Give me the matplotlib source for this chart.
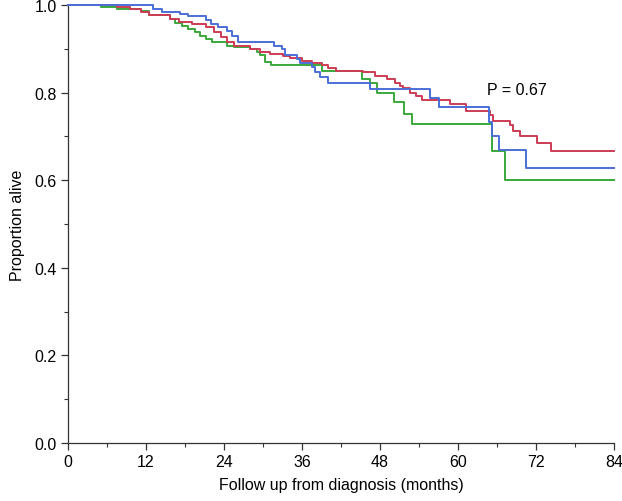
import matplotlib
matplotlib.use("Agg")
import matplotlib.pyplot as plt
from matplotlib.ticker import MultipleLocator

# ---- data ----
red_t = [0, 7.5, 9.5, 11.3, 12.4, 15.7, 17.0, 19.0, 21.3, 22.5, 23.5, 24.4, 25.5, 28.0,
         29.5, 31.0, 33.0, 34.2, 36.0, 37.5, 39.0, 40.0, 41.3, 45.4, 47.2, 49.0, 50.3,
         51.0, 51.6, 52.6, 53.6, 54.4, 58.8, 61.3, 64.9, 65.4, 68.0, 68.5, 69.5, 72.1,
         74.3, 84]
red_s = [1.0, 0.995, 0.991, 0.983, 0.977, 0.968, 0.962, 0.957, 0.949, 0.938, 0.927, 0.915,
         0.907, 0.900, 0.893, 0.888, 0.883, 0.878, 0.873, 0.868, 0.862, 0.856, 0.850, 0.846,
         0.838, 0.832, 0.823, 0.816, 0.810, 0.800, 0.793, 0.784, 0.774, 0.757, 0.748, 0.736,
         0.725, 0.713, 0.700, 0.686, 0.667, 0.667]

blue_t = [0, 13.0, 14.4, 17.2, 18.5, 21.3, 22.0, 23.0, 24.4, 25.3, 26.2, 31.7, 32.9, 33.4,
          35.2, 35.7, 37.5, 38.0, 38.8, 40.0, 46.5, 55.7, 57.1, 64.8, 65.3, 66.3, 70.4, 84]
blue_s = [1.0, 0.991, 0.985, 0.980, 0.976, 0.965, 0.957, 0.950, 0.941, 0.930, 0.915, 0.907,
          0.900, 0.886, 0.877, 0.868, 0.858, 0.846, 0.835, 0.823, 0.808, 0.787, 0.766, 0.732,
          0.702, 0.670, 0.627, 0.627]

green_t = [0, 5.0, 7.5, 11.3, 12.4, 15.7, 16.5, 17.5, 18.5, 19.5, 20.3, 21.2, 22.1, 24.5,
           25.5, 28.0, 29.1, 29.5, 30.3, 31.3, 39.0, 45.2, 46.5, 47.5, 50.2, 51.7, 52.9,
           65.3, 67.3, 84]
green_s = [1.0, 0.995, 0.991, 0.987, 0.977, 0.968, 0.959, 0.953, 0.945, 0.938, 0.930, 0.922,
           0.915, 0.907, 0.903, 0.900, 0.892, 0.885, 0.869, 0.862, 0.850, 0.832, 0.823, 0.800,
           0.778, 0.751, 0.728, 0.667, 0.601, 0.601]

x_ticks = [0, 12, 24, 36, 48, 60, 72, 84]
y_ticks = [0.0, 0.2, 0.4, 0.6, 0.8, 1.0]
p_text = "P = 0.67"

plt.rcParams['font.family'] = ['Liberation Sans', 'DejaVu Sans']
FS = 11.5

fig = plt.figure(figsize=(6.22, 5.02), dpi=100)
ax = fig.add_axes([68/622, 1-444/502, (614-68)/622, (444-6)/502])

lw = 1.4
ax.step(red_t, red_s, where='post', color='#cc3d55', lw=lw, clip_on=False, zorder=3)
ax.step(green_t, green_s, where='post', color='#3aa83a', lw=lw, clip_on=False, zorder=2)
ax.step(blue_t, blue_s, where='post', color='#4a6fd6', lw=lw, clip_on=False, zorder=4)

ax.set_xlim(0, 84)
ax.set_ylim(0, 1.0)
ax.set_xticks(x_ticks)
ax.set_xticklabels([str(t) for t in x_ticks])
ax.set_yticks(y_ticks)
ax.set_yticklabels([f"{v:.1f}" for v in y_ticks])
ax.xaxis.set_minor_locator(MultipleLocator(6))
ax.yaxis.set_minor_locator(MultipleLocator(0.1))

for s in ['top', 'right']:
    ax.spines[s].set_visible(False)
for s in ['left', 'bottom']:
    ax.spines[s].set_linewidth(0.9)
    ax.spines[s].set_color('#333333')

ax.tick_params(which='major', direction='out', length=5, width=0.9, color='#333333',
               labelsize=FS, pad=3)
ax.tick_params(which='minor', direction='out', length=3, width=0.8, color='#333333')

ax.set_xlabel("Follow up from diagnosis (months)", fontsize=FS, labelpad=6)
ax.set_ylabel("Proportion alive", fontsize=FS, labelpad=7)

ax.text(64.5, 0.806, p_text, fontsize=FS, va='center', ha='left')

fig.savefig("out.png", dpi=100)
